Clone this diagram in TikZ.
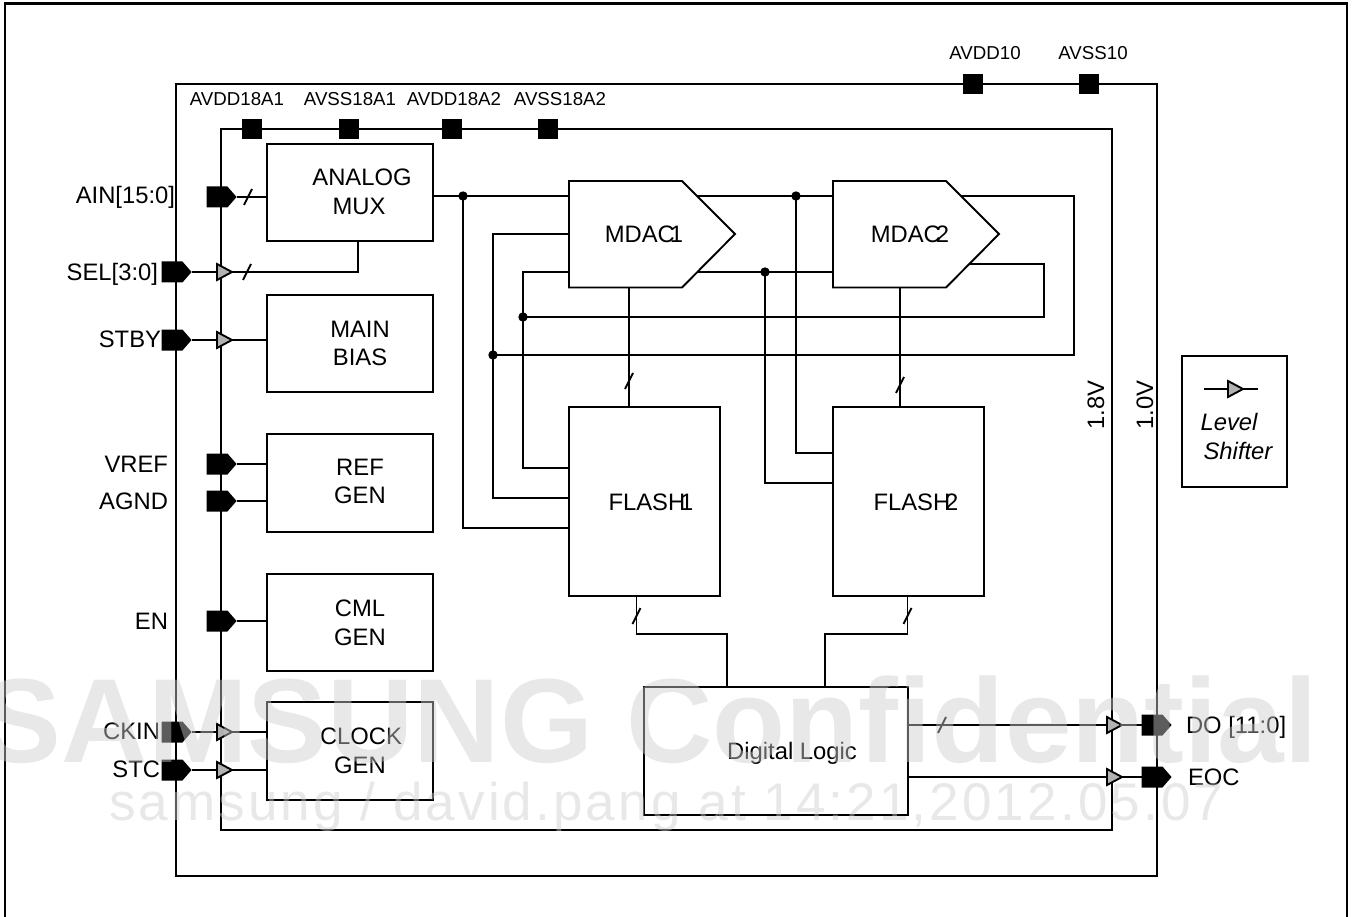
\documentclass[tikz,border=0pt]{standalone}
\usepackage{fontspec}
\setmainfont{Liberation Sans}
\newfontfamily\wmfont[LetterSpace=5.9]{Liberation Sans}
\usetikzlibrary{shapes.geometric,shapes.symbols,calc}
\tikzset{
  wire/.style={line width=1.9pt,line join=miter},
  blockbox/.style={draw,line width=1.9pt,fill=white,rectangle,inner sep=0,outer sep=0,anchor=north west},
  padsq/.style={fill=black,rectangle,inner sep=0,outer sep=0,minimum width=20pt,minimum height=20pt},
  pinshape/.style={signal,signal to=east,signal pointer angle=98,fill=black,inner sep=0,outer sep=0,minimum width=30pt,minimum height=21pt},
  shifter/.style={isosceles triangle,isosceles triangle apex angle=53,isosceles triangle stretches,shape border rotate=0,draw,line width=1.9pt,fill=black!30,inner sep=0,outer sep=0,minimum width=16pt,minimum height=15pt,anchor=apex},
  txt/.style={font=\fontsize{23.8}{27}\selectfont,inner sep=0,outer sep=0},
  smalltxt/.style={font=\fontsize{18.7}{21}\selectfont,inner sep=0,outer sep=0},
  pinlbl/.style={font=\fontsize{23.8}{27}\selectfont,inner sep=0,outer sep=0},
  lst/.style={font=\fontsize{23.8}{27}\selectfont\itshape,inner sep=0,outer sep=0},
  wmtxt/.style={inner sep=0,outer sep=0,text=black!20,text opacity=0.45,anchor=base west},
}
\newcommand{\busmark}[2]{\draw[line width=1.9pt] (#1-4,#2+8) -- (#1+4,#2-8);}
\begin{document}
\begin{tikzpicture}[x=1pt,y=-1pt]
\useasboundingbox (0,0) rectangle (1354,917);
\fill[white] (0,0) rectangle (1354,917);
% page frame
\draw[line width=2.8pt] (5,917) -- (5,3.5) -- (1347,3.5) -- (1347,917);
% domains
\node[blockbox,fill=none,minimum width=981pt,minimum height=792pt] (dom10) at (176,84) {};
\node[blockbox,fill=none,minimum width=891pt,minimum height=701pt] (dom18) at (221,129) {};
% wire joints
\coordinate (j463) at (463,196);
\coordinate (j796) at (796,196);
\coordinate (j492) at (493,355);
\coordinate (j523) at (523,317);
\coordinate (j765) at (765,272);
% feedback wires (behind blocks)
\coordinate (m2a) at (960,196);
\coordinate (m2b) at (1074,196);
\coordinate (m2c) at (1074,355);
\coordinate (m2d) at (960,264);
\coordinate (m2e) at (1044,264);
\coordinate (m2f) at (1044,317);
\coordinate (muxo) at (433,196);
\coordinate (f1a) at (569,528);
\coordinate (f1b) at (569,498);
\coordinate (f1c) at (569,468);
\coordinate (f2a) at (833,453);
\coordinate (f2b) at (833,483);
\coordinate (m1a) at (600,196);
\coordinate (m1b) at (600,234);
\coordinate (m1c) at (600,272);
\coordinate (m1d) at (650,196);
\coordinate (m1e) at (650,272);
\coordinate (m2in1) at (860,196);
\coordinate (m2in2) at (860,272);
\draw[wire] (muxo) -- (m1a);
\draw[wire] (m1d) -- (m2in1);
\draw[wire] (m2a) -- (m2b) -- (m2c) -- (j492);
\draw[wire] (m1b) -- (m1b -| j492) -- (j492) -- (f1b -| j492) -- (f1b);
\draw[wire] (j463) -- (f1a -| j463) -- (f1a);
\draw[wire] (j796) -- (f2a -| j796) -- (f2a);
\draw[wire] (m1e) -- (m2in2);
\draw[wire] (j765) -- (f2b -| j765) -- (f2b);
\draw[wire] (m2d) -- (m2e) -- (m2f) -- (j523);
\draw[wire] (m1c) -- (m1c -| j523) -- (j523) -- (f1c -| j523) -- (f1c);
% MDAC to flash links
\coordinate (m1o) at (629,287);
\coordinate (f1i) at (629,407);
\coordinate (m2o) at (900,287);
\coordinate (f2i) at (900,407);
\draw[wire] (m1o) -- (f1i);
\draw[wire] (m2o) -- (f2i);
\busmark{629}{381}
\busmark{900}{385}
% MDACs
\draw[wire,fill=white] (569,181) -- (682,181) -- (735,234) -- (682,287.5) -- (569,287.5) -- cycle;
\draw[wire,fill=white] (833,181) -- (946,181) -- (999,234) -- (946,287.5) -- (833,287.5) -- cycle;
\fill (j463) circle (4.7);
\fill (j796) circle (4.7);
\fill (j492) circle (4.7);
\fill (j523) circle (4.7);
\fill (j765) circle (4.7);
% blocks
\node[blockbox,minimum width=166pt,minimum height=97pt] (mux) at (267,144) {};
\node[blockbox,minimum width=166pt,minimum height=97pt] (bias) at (267,295) {};
\node[blockbox,minimum width=166pt,minimum height=98pt] (ref) at (267,434) {};
\node[blockbox,minimum width=166pt,minimum height=97pt] (cml) at (267,574) {};
\node[blockbox,minimum width=166pt,minimum height=98pt] (clk) at (267,702) {};
\node[blockbox,minimum width=151pt,minimum height=189pt] (flash1) at (569,407) {};
\node[blockbox,minimum width=151pt,minimum height=189pt] (flash2) at (833,407) {};
\node[blockbox,minimum width=264pt,minimum height=128pt] (dig) at (644,687) {};
\node[blockbox,minimum width=105pt,minimum height=131pt] (lsbox) at (1182,356) {};
% flash to logic
\coordinate (f1o) at (636.5,596);
\coordinate (f2o) at (907.5,596);
\coordinate (d1) at (727,687);
\coordinate (d2) at (825,687);
\coordinate (d1m) at (727,634);
\coordinate (d2m) at (825,634);
\draw[wire] (f1o) -- (f1o |- d1m) -- (d1m) -- (d1);
\draw[wire] (f2o) -- (f2o |- d2m) -- (d2m) -- (d2);
\busmark{636.5}{616}
\busmark{907.5}{616}
% pads
\node[padsq] (avdd10) at (973,84) {};
\node[padsq] (avss10) at (1089,84) {};
\node[padsq] (avdd1) at (252,129) {};
\node[padsq] (avss1) at (349,129) {};
\node[padsq] (avdd2) at (452,129) {};
\node[padsq] (avss2) at (548,129) {};
% pins
\node[pinshape] (ain) at (217,197) {};
\node[pinshape] (sel) at (172,272) {};
\node[pinshape] (stby) at (172,340) {};
\node[pinshape] (vref) at (217,464) {};
\node[pinshape] (agnd) at (217,501) {};
\node[pinshape] (en) at (217,621) {};
\node[pinshape] (ckin) at (172,732) {};
\node[pinshape] (stc) at (172,770) {};
\node[pinshape] (do) at (1152,725) {};
\node[pinshape] (eoc) at (1152,777) {};
% input wires
\coordinate (muxin) at (mux.west |- ain.east);
\coordinate (muxs) at (358,241);
\draw[wire] (ain.east) -- (muxin);
\draw[wire] (sel.east) -- (sel.east -| muxs) -- (muxs);
\draw[wire] (stby.east) -- (stby.east -| bias.west);
\draw[wire] (vref.east) -- (vref.east -| ref.west);
\draw[wire] (agnd.east) -- (agnd.east -| ref.west);
\draw[wire] (en.east) -- (en.east -| cml.west);
\draw[wire] (ckin.east) -- (ckin.east -| clk.west);
\draw[wire] (stc.east) -- (stc.east -| clk.west);
\draw[wire] (dig.east |- do.west) -- (do.west);
\draw[wire] (dig.east |- eoc.west) -- (eoc.west);
\busmark{248}{197}
\busmark{247}{272}
\busmark{942}{725}
% level shifters
\node[shifter] (lsa) at (232,272) {};
\node[shifter] (lsb) at (232,340) {};
\node[shifter] (lsc) at (232,732) {};
\node[shifter] (lsd) at (232,770) {};
\node[shifter] (lse) at (1122,725) {};
\node[shifter] (lsf) at (1122,777) {};
\coordinate (lkl) at (1204,389);
\coordinate (lkr) at (1258,389);
\draw[wire] (lkl) -- (lkr);
\node[shifter] (lsk) at (1243,389) {};
% block labels
\node[txt] (t1) at (362,177) {ANALOG};
\node[txt] (t2) at (359,206) {MUX};
\node[txt] (t3) at (360,329) {MAIN};
\node[txt] (t4) at (360,357) {BIAS};
\node[txt] (t5) at (360,467) {REF};
\node[txt] (t6) at (360,495) {GEN};
\node[txt] (t7) at (360,608) {CML};
\node[txt] (t8) at (360,637) {GEN};
\node[txt] (t9) at (361,736) {CLOCK};
\node[txt] (t10) at (360,765) {GEN};
\node[txt] (t11) at (644,234) {MDAC\kern-5pt 1};
\node[txt] (t12) at (910,234) {MDAC\kern-5pt 2};
\node[txt] (t13) at (651,502) {FLASH\kern-5pt 1};
\node[txt] (t14) at (916,502) {FLASH\kern-5pt 2};
\node[txt,anchor=base] (t15) at (792,759) {Digital Logic};
\node[lst,anchor=base] (t16) at (1229,430) {Level};
\node[lst,anchor=base] (t17) at (1238,459) {Shifter};
\node[txt,rotate=90] (t18) at (1096,405) {1.8V};
\node[txt,rotate=90] (t19) at (1145,405) {1.0V};
% pad labels
\node[smalltxt] (p1) at (985,53) {AVDD10};
\node[smalltxt] (p2) at (1093,53) {AVSS10};
\node[smalltxt] (p3) at (237,99) {AVDD18A1};
\node[smalltxt] (p4) at (350,99) {AVSS18A1};
\node[smalltxt] (p5) at (454,99) {AVDD18A2};
\node[smalltxt] (p6) at (560,99) {AVSS18A2};
% pin labels
\node[pinlbl,anchor=east] (q1) at (175,197) {AIN[15:0]};
\node[pinlbl,anchor=east] (q2) at (158,274) {SEL[3:0]};
\node[pinlbl,anchor=east] (q3) at (161,339) {STBY};
\node[pinlbl,anchor=east] (q4) at (168,464) {VREF};
\node[pinlbl,anchor=east] (q5) at (168,501) {AGND};
\node[pinlbl,anchor=east] (q6) at (168,621) {EN};
\node[pinlbl,anchor=east] (q7) at (160,731) {CKIN};
\node[pinlbl,anchor=east] (q8) at (160,769) {STC};
\node[pinlbl,anchor=west] (q9) at (1186,727) {DO [11:0]};
\node[pinlbl,anchor=west] (q10) at (1188,777) {EOC};
% watermark
\node[wmtxt,font=\fontsize{119.6}{130}\selectfont\bfseries] (wm1) at (-18,762) {SAMSUNG Confidential};
\node[wmtxt,font=\wmfont\fontsize{53}{60}\selectfont] (wm2) at (109,820) {samsung / david.pang at 14:21,2012.05.07};
\end{tikzpicture}
\end{document}
